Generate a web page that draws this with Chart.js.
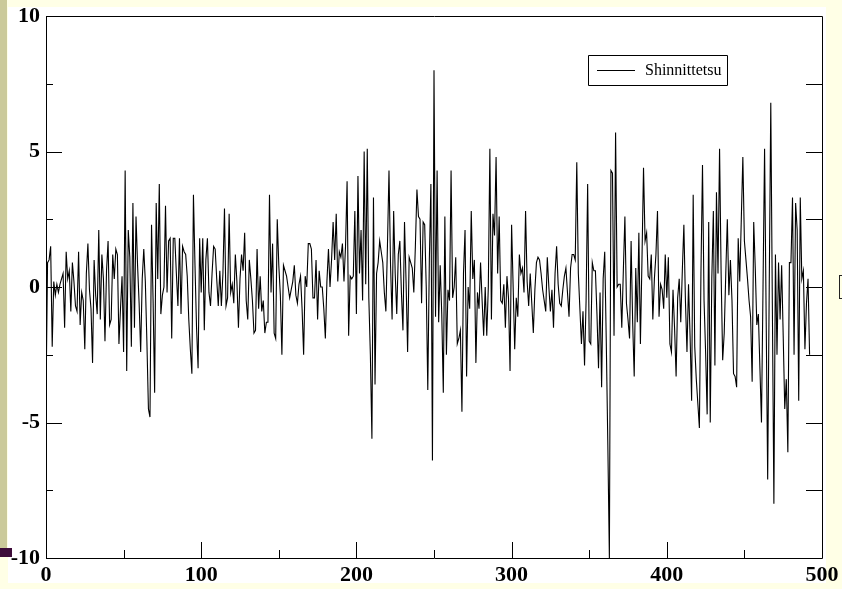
<!DOCTYPE html>
<html>
<head>
<meta charset="utf-8">
<script src="https://cdn.jsdelivr.net/npm/chart.js@4.4.1/dist/chart.umd.min.js"></script>
<style>
  html, body { margin: 0; padding: 0; }
  body { width: 842px; height: 589px; background: #ffffe6; position: relative; overflow: hidden; }
  .sheet { position: absolute; left: 8px; top: 7px; width: 818px; height: 576px; background: #fff; }
  .strip { position: absolute; left: 0; top: 0; width: 7px; height: 548px; background: #cbca9a; }
  .bar { position: absolute; left: 0; top: 548px; width: 12px; height: 9px; background: #3d0c39; }
  .mark { position: absolute; left: 839px; top: 275px; width: 10px; height: 22px; border: 1.5px solid #222; background: #ffffe6; }
  canvas { position: absolute; left: 0; top: 0; }
</style>
</head>
<body>
<div class="sheet"></div>
<div class="strip"></div>
<div class="bar"></div>
<div class="mark"></div>
<canvas id="lineChart" width="842" height="589"></canvas>
<script>
const seriesName = "Shinnittetsu";

const values = [
  -4.1, 0.9, 1.0, 1.5, -2.2, 0.2, -0.3, 0.1, -0.2, 0.1,
  0.3, 0.5, -1.5, 1.3, 0.3, 0.6, -0.9, 0.9, 0.2, -0.7,
  -0.9, 1.3, -1.4, -0.2, -0.5, -2.3, 0.5, 1.6, -0.1, -0.8,
  -2.8, 1.0, -0.3, -1.0, 2.1, -1.2, 1.2, 0.3, -2.0, 0.6,
  1.7, -1.4, -1.2, 1.2, 0.3, 1.4, 1.2, -2.1, -0.8, 0.4,
  -2.4, 4.3, -3.1, 2.1, 1.1, -2.2, 3.1,
  -1.5, 2.6, 0.8, -0.6, -2.4, 0.3, 1.4, 0.2, -2.0, -4.5,
  -4.8, 2.3, -0.5, -3.9, 3.1, 0.3, 3.8, -1.0, -0.3, 0.0,
  3.0, -0.2, 1.7, 1.8, -1.9, 1.8, 1.8, 0.5, -0.7, 1.8,
  -1.0, 1.5, 1.3, 1.2, 0.4, -1.2, -2.3, -3.2, 3.4, 0.8,
  -1.5, -3.0, 1.8, -0.2, 1.8, -1.6, 1.0, 1.8, -0.2, -0.7,
  0.5, 1.5, 1.4, 0.3, -0.7, 0.6,
  -0.7, 0.5, 2.9, -0.7, -0.4, 2.7, -0.2, 0.1, -0.6, 1.2,
  0.2, -1.5, 0.3, 1.2, 0.6, 2.0, -0.5, -1.2, 1.0, 0.3,
  -0.5, -1.7, -1.6, 1.4, -0.8, 0.4, -0.9, -0.5, -1.7, -1.3,
  -1.3, 3.4, -0.2, 1.6, -1.7, -1.9, 2.5, 0.8, -0.3, -2.5,
  0.8, 0.6, 0.4, 0.0, -0.4, -0.1, 0.2, 0.8, -0.3, -0.6,
  0.1, 0.4, -0.8, -2.5, 0.4, 0.0, 1.6,
  1.6, 1.4, -0.4, -0.4, 1.0, -1.2, 0.6, 0.0, 0.0, -0.8,
  -1.9, 0.2, 1.4, 0.0, 1.0, 2.4, 1.0, 2.7, 0.2, 1.3,
  1.1, 1.6, 0.2, 1.5, 3.9, -1.8, 0.4, 0.3, 0.4, 2.8,
  -1.0, 4.1, 0.5, 2.1, -0.5, 5.0, 0.1, 5.1, -0.4, -2.5,
  -5.6, 3.3, -3.6, 0.5, 0.9, 1.7, 1.3, 0.9, -0.2, -0.9,
  1.5, 4.3, 0.8, -1.2, 2.8, 0.5, -1.0,
  1.2, 1.7, -0.2, -1.6, 2.4, 0.2, -2.4, 1.1, 0.9, 0.7,
  -0.2, 1.5, 3.6, 2.6, 2.5, -0.6, 2.4, 2.3, 0.0, -3.8,
  1.0, 3.8, -6.4, 8.0, -1.1, 4.3, -1.3, 0.8, -1.0, -3.9,
  2.6, -2.5, -0.1, -0.5, 4.3, -0.4, 0.0, 1.1, -2.1, -1.9,
  -1.6, -4.6, 0.5, 2.1, -3.3, 0.0, -0.8, 2.8, 0.3, 1.0,
  -2.8, -0.2, -0.8, 0.9, -0.5, -1.8, 0.0,
  -1.8, 0.0, 5.1, -1.2, 2.7, 1.9, 4.8, 0.5, 2.6, -0.5,
  -0.6, 0.1, -1.5, 0.4, -0.4, -3.1, 2.3, 0.0, -2.3, -0.4,
  -1.1, 1.2, 0.5, 0.7, -0.2, 2.8, 0.2, -0.7, 0.5, -0.6,
  -1.7, -0.1, 0.9, 1.1, 1.0, 0.5, -0.1, -0.5, -0.9, 1.1,
  0.0, -0.9, -0.1, -1.5, 0.5, 1.5, 0.1, -0.6, -0.7, -0.1,
  0.4, 0.7, -0.2, -1.1, 0.7, 1.2,
  1.2, 1.0, 4.6, 0.5, -0.8, -2.1, -0.9, -2.9, -0.5, 3.8,
  -2.0, -2.1, 0.9, 0.6, 0.6, -1.0, -3.0, -0.2, -3.7, 0.3,
  1.3, -2.0, -5.8, -10.0, 4.3, 4.2, -1.8, 5.7, 0.0, 0.1,
  0.1, -1.5, 0.6, 2.6, -0.6, -1.2, -1.9, 1.7, -1.3, -3.3,
  0.7, -1.3, 2.0, -2.1, 1.0, 4.4, 1.7, 2.0, 0.4, 0.3,
  1.2, -1.2, 0.3, 1.2, 2.8, -1.1, 0.1,
  -0.1, -0.8, 1.2, -0.4, 1.1, -2.1, -2.4, -0.1, -1.5, -3.3,
  -0.4, 0.3, -1.3, 0.6, 2.3, -0.5, -2.4, 0.1, -1.8, -4.2,
  3.4, -2.2, -3.4, -4.3, -5.2, 0.5, 4.5, -0.5, -2.4, -4.7,
  2.4, -5.0, 0.3, 2.8, -2.9, 3.5, 0.5, 5.1, 0.5, -2.7,
  -1.7, 0.5, 2.5, -0.3, 1.0, -0.5, -3.2, -3.3, -3.7, 1.8,
  0.2, 2.5, 4.8, 1.7, 1.0, 0.3, -0.5,
  -1.1, -3.5, 2.4, 0.7, -1.4, -1.0, -3.0, -5.0, 0.0, 5.1,
  -1.0, -7.1, 0.0, 6.8, -0.6, -8.0, 1.2, -2.5, 0.9, -1.2,
  0.8, -1.8, -4.5, -3.4, -6.1, 0.9, 0.9, 3.3, -2.5, 3.1,
  2.1, -4.2, 3.3, 0.3, 0.6, -2.3, -0.6, 0.3, -2.5
];

const xTickLabels = [0, 100, 200, 300, 400, 500];
const yTickLabels = [-10, -5, 0, 5, 10];

const tickFont = { family: "'Liberation Serif', 'Times New Roman', serif", size: 22, weight: "bold" };

// frame, inward ticks and the boxed legend, drawn from the chart's own scales
const framePlugin = {
  id: "frame",
  afterDraw(chart) {
    const { ctx, chartArea: a, scales } = chart;
    const xs = scales.x, ys = scales.y;
    ctx.save();
    ctx.strokeStyle = "#000";
    ctx.lineWidth = 1;
    ctx.beginPath();
    ctx.rect(Math.round(a.left) + 0.5, Math.round(a.top) + 0.5,
             Math.round(a.right - a.left), Math.round(a.bottom - a.top));
    ys.ticks.forEach(t => {
      const py = Math.round(ys.getPixelForValue(t.value)) + 0.5;
      const major = yTickLabels.includes(t.value);
      ctx.moveTo(a.left, py); ctx.lineTo(a.left + (major ? 16 : 7), py);
      ctx.moveTo(a.right, py); ctx.lineTo(a.right - 16, py);
    });
    xs.ticks.forEach(t => {
      const px = Math.round(xs.getPixelForValue(t.value)) + 0.5;
      const major = xTickLabels.includes(t.value);
      ctx.moveTo(px, a.bottom); ctx.lineTo(px, a.bottom - (major ? 16 : 8));
    });
    ctx.stroke();

    // legend
    const lx = 588, ly = 55, lw = 139, lh = 30;
    ctx.beginPath();
    ctx.rect(lx + 0.5, ly + 0.5, lw, lh);
    ctx.moveTo(597, ly + 15.5);
    ctx.lineTo(635, ly + 15.5);
    ctx.stroke();
    ctx.fillStyle = "#000";
    ctx.font = "16px 'Liberation Serif', 'Times New Roman', serif";
    ctx.textBaseline = "middle";
    ctx.fillText(chart.data.datasets[0].label, 645, ly + 16);
    ctx.restore();
  }
};

const ctx = document.getElementById("lineChart").getContext("2d");
new Chart(ctx, {
  type: "line",
  data: {
    datasets: [
      {
        label: seriesName,
        data: values.map((v, i) => ({ x: i, y: v })),
        borderColor: "#000",
        borderWidth: 1.1,
        pointRadius: 0,
        tension: 0,
        fill: false,
      },
    ],
  },
  options: {
    responsive: false,
    animation: false,
    layout: { padding: { left: 0, top: 16, right: 20, bottom: 0 } },
    plugins: {
      legend: { display: false },
      tooltip: { enabled: false },
    },
    scales: {
      x: {
        type: "linear",
        min: 0,
        max: 500,
        afterFit(scale) {
          scale.height = 31;
          scale.paddingLeft = 0;
          scale.paddingRight = 0;
        },
        grid: { display: false, drawTicks: false },
        border: { display: false },
        ticks: {
          stepSize: 50,
          padding: 4,
          color: "#000",
          font: tickFont,
          maxRotation: 0,
          autoSkip: false,
          callback: v => (xTickLabels.includes(v) ? String(v) : ""),
        },
      },
      y: {
        min: -10,
        max: 10,
        afterFit(scale) {
          scale.width = 46;
          scale.paddingTop = 0;
          scale.paddingBottom = 0;
        },
        grid: { display: false, drawTicks: false },
        border: { display: false },
        ticks: {
          stepSize: 2.5,
          padding: 6,
          color: "#000",
          font: tickFont,
          autoSkip: false,
          callback: v => (yTickLabels.includes(v) ? String(v) : ""),
        },
      },
    },
  },
  plugins: [framePlugin],
});
</script>
</body>
</html>
